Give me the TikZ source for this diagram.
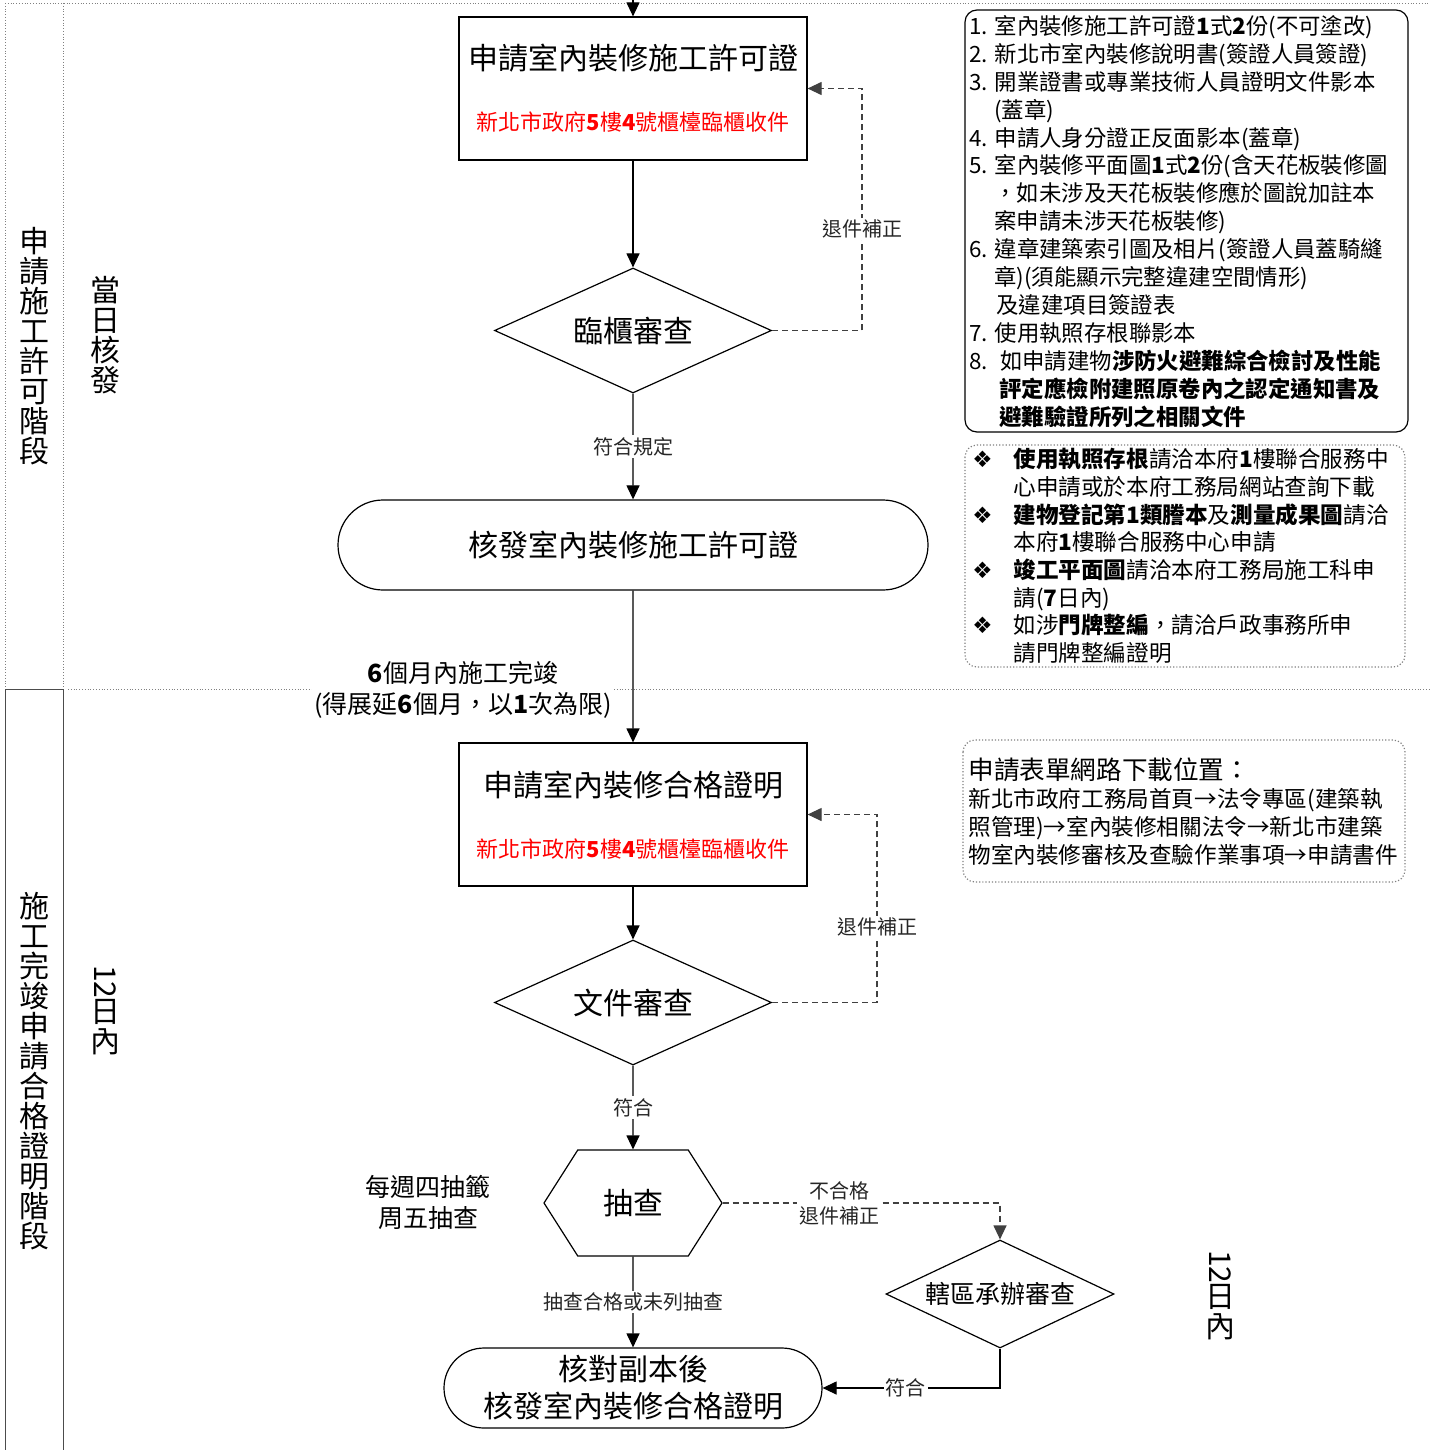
\documentclass[tikz,border=0pt]{standalone}
\usepackage{fontspec}
\setmainfont{Noto Sans CJK TC}
\newfontfamily\dingfont{DejaVu Sans}
\usetikzlibrary{shapes.geometric,shapes.misc,shapes.symbols,arrows.meta,positioning}

\tikzstyle{block} = [draw, rectangle, minimum width=174pt, minimum height=71.5pt, line width=0.6pt]
\tikzstyle{decision} = [draw, diamond, aspect=2.2, minimum width=138.5pt, minimum height=62.5pt, inner sep=0pt, line width=0.6pt, font=\fontsize{15}{18}\selectfont]
\tikzstyle{terminal} = [draw, rounded rectangle, align=center, inner sep=0pt, line width=0.6pt, font=\fontsize{15}{18.5}\selectfont]
\tikzstyle{sample} = [draw, signal, signal to=west and east, signal pointer angle=115, minimum width=89pt, minimum height=53pt, inner sep=0pt, line width=0.6pt, font=\fontsize{15}{18}\selectfont]
\tikzstyle{title} = [inner sep=0pt, font=\fontsize{15}{18}\selectfont]
\tikzstyle{counter} = [inner sep=0pt, text=red, font=\fontsize{11}{13}\selectfont]
\tikzstyle{tag} = [fill=white, align=center, inner sep=1pt, text=black!85, font=\fontsize{10}{12.5}\selectfont]
\tikzstyle{note} = [align=center, inner sep=1pt, font=\fontsize{12.5}{15.5}\selectfont]
\tikzstyle{lane} = [align=center, inner sep=0pt, font=\fontsize{15}{15}\selectfont]
\tikzstyle{flow} = [draw, line width=0.6pt, -{Triangle[length=7pt,width=6.5pt]}]
\tikzstyle{retflow} = [flow, black!75, dash pattern=on 3pt off 2pt]
\tikzstyle{memo} = [rounded corners=6pt, line width=0.6pt]
\tikzstyle{memotext} = [anchor=north west, align=left, inner sep=0pt]

\begin{document}
\begin{tikzpicture}[x=0.5pt, y=-0.5pt]
    \useasboundingbox (0,0) rectangle (1430,1450);

    % lanes
    \draw[gray, densely dotted] (5,3) -- (1430,3);
    \draw[gray, densely dotted] (5,3) -- (5,689) (63,3) -- (63,689);
    \draw[gray, densely dotted] (68,689) -- (1430,689);
    \draw[black!70, line width=0.5pt] (5,689) -- (63,689) (5,689) -- (5,1450) (63,689) -- (63,1450);

    \node [lane] (lane1) at (34,346) {申\\請\\施\\工\\許\\可\\階\\段};
    \node [lane] (lane2) at (34,1071) {施\\工\\完\\竣\\申\\請\\合\\格\\證\\明\\階\\段};
    \node [lane] (day1) at (105,335) {當\\日\\核\\發};
    \node [lane] (day2) at (105,1010) {\rotatebox[origin=c]{-90}{12}\\日\\內};
    \node [lane] (day3) at (1220,1295) {\rotatebox[origin=c]{-90}{12}\\日\\內};

    % permit stage
    \coordinate (entry) at (633,0);
    \node [block] (apply) at (633,88.5) {};
    \node [title] (apply-t) at (633,58) {申請室內裝修施工許可證};
    \node [counter] (apply-r) at (633,122) {新北市政府\textbf{5}樓\textbf{4}號櫃檯臨櫃收件};
    \node [decision] (review) at (633,330.5) {臨櫃審查};
    \node [terminal, minimum width=295pt, minimum height=45pt] (permit) at (633,545) {核發室內裝修施工許可證};
    \coordinate (ret1) at (862,88.5);

    % completion stage
    \node [block] (finish) at (633,814.5) {};
    \node [title] (finish-t) at (633,785) {申請室內裝修合格證明};
    \node [counter] (finish-r) at (633,849) {新北市政府\textbf{5}樓\textbf{4}號櫃檯臨櫃收件};
    \node [decision] (check) at (633,1002.5) {文件審查};
    \node [sample] (spot) at (633,1203) {抽查};
    \node [decision, minimum width=114pt, minimum height=54pt, font=\fontsize{12.5}{15}\selectfont] (district) at (1000,1294) {轄區承辦審查};
    \node [terminal, minimum width=189pt, minimum height=40pt] (cert) at (633,1388) {核對副本後\\核發室內裝修合格證明};
    \coordinate (ret2) at (877,814.5);
    \coordinate (fail) at (1000,1203);
    \coordinate (pass) at (1000,1388);

    \node [note, fill=white] (limit) at (463,689.5) {\textbf{6}個月內施工完竣\\(得展延\textbf{6}個月，以\textbf{1}次為限)};
    \node [note] (lottery) at (428,1202.5) {每週四抽籤\\周五抽查};

    \draw [flow] (entry) -- (apply);
    \draw [flow] (apply) -- (review);
    \draw [flow] (review) -- node [tag] {符合規定} (permit);
    \draw [retflow] (review.east) -- (review.east -| ret1) -- node [tag, pos=0.42] {退件補正} (ret1) -- (apply.east);
    \draw [flow] (permit) -- (finish);
    \draw [flow] (finish) -- (check);
    \draw [retflow] (check.east) -- (check.east -| ret2) -- node [tag, pos=0.4] {退件補正} (ret2) -- (finish.east);
    \draw [flow] (check) -- node [tag] {符合} (spot);
    \draw [retflow] (spot.east) -- node [tag, pos=0.42] {不合格\\退件補正} (fail) -- (district.north);
    \draw [flow] (spot) -- node [tag] {抽查合格或未列抽查} (cert);
    \draw [flow] (district.south) -- (pass) -- node [tag, pos=0.53] {符合} (cert.east);

    % side notes
    \draw [memo] (965,10) rectangle (1408,432);
    \node [memotext, font=\fontsize{11.2}{13.95}\selectfont] (required) at (969,15) {%
        1. 室內裝修施工許可證\textbf{1}式\textbf{2}份(不可塗改)\\
        2. 新北市室內裝修說明書(簽證人員簽證)\\
        3. 開業證書或專業技術人員證明文件影本\\
        \hspace*{12.5pt}(蓋章)\\
        4. 申請人身分證正反面影本(蓋章)\\
        5. 室內裝修平面圖\textbf{1}式\textbf{2}份(含天花板裝修圖\\
        \hspace*{12.5pt}，如未涉及天花板裝修應於圖說加註本\\
        \hspace*{12.5pt}案申請未涉天花板裝修)\\
        6. 違章建築索引圖及相片(簽證人員蓋騎縫\\
        \hspace*{12.5pt}章)(須能顯示完整違建空間情形)\\
        \hspace*{13.5pt}及違建項目簽證表\\
        7. 使用執照存根聯影本\\
        8.\hspace*{6pt}如申請建物\textbf{涉防火避難綜合檢討及性能}\\
        \hspace*{15pt}\textbf{評定應檢附建照原卷內之認定通知書及}\\
        \hspace*{15pt}\textbf{避難驗證所列之相關文件}};

    \draw [memo, gray, densely dotted] (965,445) rectangle (1405,667);
    \node [memotext, font=\fontsize{11.3}{13.85}\selectfont] (fetch) at (972,448) {%
        \makebox[20.5pt][l]{\dingfont ❖}\textbf{使用執照存根}請洽本府\textbf{1}樓聯合服務中\\
        \hspace*{20.5pt}心申請或於本府工務局網站查詢下載\\
        \makebox[20.5pt][l]{\dingfont ❖}\textbf{建物登記第1類謄本}及\textbf{測量成果圖}請洽\\
        \hspace*{20.5pt}本府\textbf{1}樓聯合服務中心申請\\
        \makebox[20.5pt][l]{\dingfont ❖}\textbf{竣工平面圖}請洽本府工務局施工科申\\
        \hspace*{20.5pt}請(\textbf{7}日內)\\
        \makebox[20.5pt][l]{\dingfont ❖}如涉\textbf{門牌整編}，請洽戶政事務所申\\
        \hspace*{20.5pt}請門牌整編證明};

    \draw [memo, gray, densely dotted] (963,740) rectangle (1405,882);
    \node [memotext, font=\fontsize{12.8}{15}\selectfont] (web-head) at (968,757) {申請表單網路下載位置：};
    \node [memotext, font=\fontsize{11.3}{14}\selectfont] (web-path) at (968,788) {%
        新北市政府工務局首頁→法令專區(建築執\\
        照管理)→室內裝修相關法令→新北市建築\\
        物室內裝修審核及查驗作業事項→申請書件};
\end{tikzpicture}
\end{document}
